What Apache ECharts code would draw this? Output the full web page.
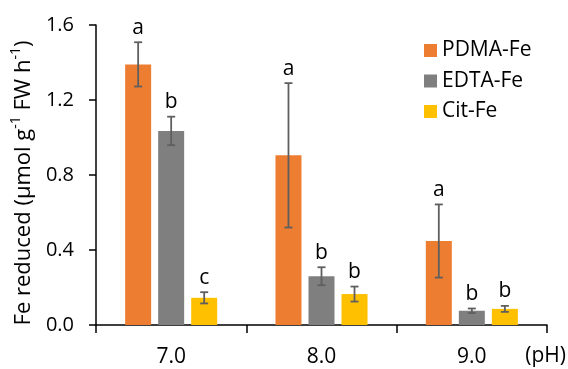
<!DOCTYPE html>
<html><head><meta charset="utf-8">
<script src="https://cdn.jsdelivr.net/npm/echarts@6/dist/echarts.min.js"></script>
<style>html,body{margin:0;padding:0;background:#fff}#c{width:568px;height:369px}</style>
</head><body><div id="c"></div>
<script>
const categories = ['7.0', '8.0', '9.0'];
const seriesNames = ['PDMA-Fe', 'EDTA-Fe', 'Cit-Fe'];
const pdmaValues = [1.39, 0.905, 0.448];
const pdmaErrors = [0.118, 0.385, 0.195];
const pdmaLetters = ['a', 'a', 'a'];
const edtaValues = [1.035, 0.26, 0.076];
const edtaErrors = [0.076, 0.048, 0.012];
const edtaLetters = ['b', 'b', 'b'];
const citValues = [0.145, 0.165, 0.086];
const citErrors = [0.03, 0.04, 0.016];
const citLetters = ['c', 'b', 'b'];
const yTicks = ['0.0', '0.4', '0.8', '1.2', '1.6'];

const colors = ['#ED7D31', '#7F7F7F', '#FFC000'];
const FONT = 'Open Sans';
const FS = 20;
const BAR_W = 26, BAR_GAP = 0.27;

const values = [pdmaValues, edtaValues, citValues];
const errors = [pdmaErrors, edtaErrors, citErrors];
const letters = [pdmaLetters, edtaLetters, citLetters];

const chart = echarts.init(document.getElementById('c'), null, {renderer: 'canvas'});

const barSeries = seriesNames.map((n, s) => ({
  name: n, type: 'bar', data: values[s], barWidth: BAR_W, barGap: (BAR_GAP * 100) + '%',
  itemStyle: {color: colors[s]}, z: 2
}));

const errSeries = seriesNames.map((n, s) => ({
  type: 'custom', z: 5,
  data: categories.map((c, i) => [i, values[s][i], errors[s][i]]),
  encode: {x: 0, y: 1},
  renderItem: function (params, api) {
    const i = api.value(0), v = api.value(1), e = api.value(2);
    const letter = letters[s][i];
    const off = (s - 1) * BAR_W * (1 + BAR_GAP);
    const top = api.coord([i, v + e]);
    const bot = api.coord([i, v - e]);
    const x = top[0] + off;
    const cap = 4;
    const st = {stroke: '#5f5f5f', lineWidth: 1.8};
    return {type: 'group', children: [
      {type: 'line', shape: {x1: x, y1: top[1], x2: x, y2: bot[1]}, style: st},
      {type: 'line', shape: {x1: x - cap, y1: top[1], x2: x + cap, y2: top[1]}, style: st},
      {type: 'line', shape: {x1: x - cap, y1: bot[1], x2: x + cap, y2: bot[1]}, style: st},
      {type: 'text', style: {text: letter, x: x, y: top[1] - 4, align: 'center', verticalAlign: 'bottom',
        fontFamily: FONT, fontSize: 21, fill: '#000'}}
    ]};
  }
}));

chart.setOption({
  animation: false,
  grid: {left: 96, right: 21, top: 25, bottom: 44, outerBoundsMode: 'none', containLabel: false},
  legend: {
    data: seriesNames, orient: 'vertical', left: 419, top: 35, icon: 'rect',
    itemWidth: 13, itemHeight: 13, itemGap: 9.5,
    textStyle: {fontFamily: FONT, fontSize: 21, lineHeight: 21, color: '#000'}
  },
  xAxis: {
    type: 'category', data: categories,
    axisLine: {lineStyle: {color: '#000', width: 1.5}},
    axisTick: {show: true, length: 8, lineStyle: {color: '#000', width: 1.5}},
    axisLabel: {fontFamily: FONT, fontSize: FS + 1, color: '#000', margin: 22}
  },
  yAxis: {
    type: 'value', min: 0, max: 1.6, interval: 0.4,
    splitLine: {show: false},
    axisLine: {show: true, lineStyle: {color: '#000', width: 1.5}},
    axisTick: {show: true, length: 7, lineStyle: {color: '#000', width: 1.5}},
    axisLabel: {fontFamily: FONT, fontSize: FS, color: '#000', margin: 22,
      formatter: (v) => yTicks[Math.round(v / 0.4)]},
    name: '{n|Fe reduced (μmol g}{s|-1}{n| FW h}{s|-1}{n|)}',
    nameLocation: 'middle', nameGap: 59,
    nameTextStyle: {
      padding: [0, 16, 0, 0],
      rich: {
        n: {fontFamily: FONT, fontSize: 22, color: '#000', lineHeight: 26, verticalAlign: 'bottom'},
        s: {fontFamily: FONT, fontSize: 14, color: '#000', lineHeight: 26, verticalAlign: 'top', padding: [0, 0, 9, 0]}
      }
    }
  },
  graphic: [{type: 'text', right: 2, top: 346, style: {text: '(pH)', fontFamily: FONT, fontSize: FS + 1, fill: '#000'}}],
  series: barSeries.concat(errSeries)
});
</script></body></html>
